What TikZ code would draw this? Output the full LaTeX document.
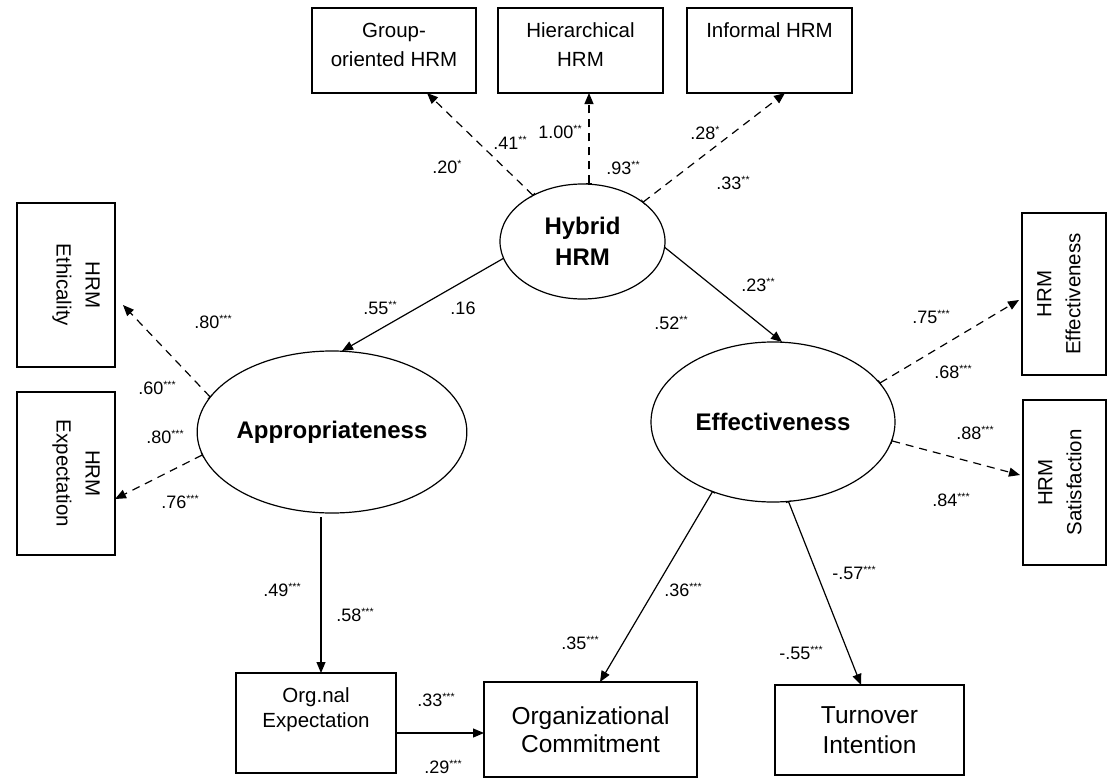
\documentclass[tikz,border=0pt]{standalone}
\usepackage{fontspec}
\setmainfont{Liberation Sans}
\usetikzlibrary{arrows.meta,shapes.geometric}
% significance marks set small and raised
\newcommand\sigmark[1]{\raisebox{5.5pt}{\fontsize{10.5}{10.5}\selectfont #1}}
\begin{document}
\begin{tikzpicture}[x=1pt,y=-1pt,
  every node/.style={inner sep=0pt, outer sep=0pt},
  obs/.style={draw, line width=1.3pt, rectangle},
  boxfont/.style={font=\fontsize{20.5}{29}\selectfont},
  latent/.style={draw, line width=1.2pt, ellipse, align=center,
    font=\fontsize{24}{31}\selectfont\bfseries},
  coef/.style={font=\fontsize{18}{21}\selectfont},
  causal/.style={line width=1.2pt, -{Triangle[length=11pt,width=9pt]}},
  loading/.style={line width=1.2pt, dash pattern=on 8pt off 6pt,
    {Bar[width=6pt,line width=0.8pt]}-{Triangle[length=11pt,width=9pt]}},
  causalbar/.style={line width=1.2pt,
    {Bar[width=6pt,line width=0.8pt]}-{Triangle[length=11pt,width=9pt]}},
]
\useasboundingbox (0,0) rectangle (1109,779);

% ---- indicator boxes of the hybrid construct
\node[obs, boxfont, minimum width=164, minimum height=85] (grp) at (394,50.5)
  {\parbox[c][67pt][t]{158pt}{\centering\strut Group-\\oriented HRM}};
\node[obs, boxfont, minimum width=165, minimum height=85] (hier) at (580.5,50.5)
  {\parbox[c][67pt][t]{158pt}{\centering\strut Hierarchical\\HRM}};
\node[obs, boxfont, minimum width=165, minimum height=85] (inf) at (769.5,50.5)
  {\parbox[c][67pt][t]{158pt}{\centering\strut Informal HRM}};

% ---- latent constructs
\node[latent, minimum width=165, minimum height=115] (hyb) at (582.5,241.5) {Hybrid\\HRM};
\node[latent, minimum width=244, minimum height=162] (app) at (332,432) {Appropriateness};
\node[latent, minimum width=244, minimum height=160] (eff) at (773,422) {Effectiveness};

% ---- side indicators (rotated text)
\node[obs, boxfont, rotate=-90, minimum width=164, minimum height=98] (eth) at (66,285)
  {\parbox[c][80pt][t]{150pt}{\centering\strut HRM\\Ethicality}};
\node[obs, boxfont, rotate=-90, minimum width=163, minimum height=98] (exp) at (66,473.5)
  {\parbox[c][80pt][t]{150pt}{\centering\strut HRM\\Expectation}};
\node[obs, boxfont, rotate=90, minimum width=162, minimum height=84] (heff) at (1064,294)
  {\parbox[c][66pt][t]{150pt}{\centering\strut HRM\\Effectiveness}};
\node[obs, boxfont, rotate=90, minimum width=165, minimum height=83] (hsat) at (1064.5,482.5)
  {\parbox[c][65pt][t]{150pt}{\centering\strut HRM\\Satisfaction}};

% ---- outcome boxes
\node[obs, font=\fontsize{20.5}{25}\selectfont, minimum width=160, minimum height=100] (orgx) at (316,723)
  {\parbox[c][77pt][t]{150pt}{\centering\strut Org.nal\\Expectation}};
\node[obs, font=\fontsize{24.5}{28}\selectfont, align=center, minimum width=213, minimum height=95] (oc) at (590.5,729.5)
  {Organizational\\Commitment};
\node[obs, font=\fontsize{24.5}{30}\selectfont, align=center, minimum width=189, minimum height=90] (tov) at (869.5,730)
  {Turnover\\Intention};

% ---- connectors
\draw[loading] (hyb.137) -- ([xshift=33pt]grp.south);
\draw[loading] ([xshift=6.5pt]hyb.north) -- ([xshift=6.5pt]hyb.north |- hier.south);
\draw[loading] (hyb.33) -- ([xshift=15.5pt]inf.south);
\draw[causal] (hyb.192) -- ([xshift=10pt]app.north);
\draw[causal] (hyb.-4) -- ([xshift=9pt]eff.north);
\draw[loading] (app.164) -- ([xshift=8pt,yshift=-20pt]eth.north);
\draw[loading] (app.190) -- ([yshift=-25.5pt]exp.north);
\draw[loading] (eff.20) -- ([xshift=-3pt,yshift=-6pt]heff.north);
\draw[loading] (eff.-9) -- ([xshift=-3pt,yshift=7.5pt]hsat.north);
\draw[causalbar] (eff.229) -- ([xshift=9.5pt]oc.north);
\draw[causalbar] (eff.281) -- ([xshift=-8.5pt]tov.north);
\draw[causal] ([xshift=-11pt,yshift=-4pt]app.south) -- ([xshift=-11pt]app.south |- orgx.north);
\draw[causal] ([yshift=-10pt]orgx.east) -- ([yshift=-10pt]orgx.east -| oc.west);

% ---- coefficients
\node[coef] (c01) at (447,167) {.20\sigmark{*}};
\node[coef] (c02) at (510,143) {.41\sigmark{**}};
\node[coef] (c03) at (560,132) {1.00\sigmark{**}};
\node[coef] (c04) at (623,168) {.93\sigmark{**}};
\node[coef] (c05) at (705,133) {.28\sigmark{*}};
\node[coef] (c06) at (733,183) {.33\sigmark{**}};
\node[coef] (c07) at (380,308) {.55\sigmark{**}};
\node[coef] (c08) at (463,308) {.16};
\node[coef] (c09) at (758,285) {.23\sigmark{**}};
\node[coef] (c10) at (671,323) {.52\sigmark{**}};
\node[coef] (c11) at (213,322) {.80\sigmark{***}};
\node[coef] (c12) at (157,388) {.60\sigmark{***}};
\node[coef] (c13) at (165,437) {.80\sigmark{***}};
\node[coef] (c14) at (180,502) {.76\sigmark{***}};
\node[coef] (c15) at (931,317) {.75\sigmark{***}};
\node[coef] (c16) at (953,372) {.68\sigmark{***}};
\node[coef] (c17) at (975,433) {.88\sigmark{***}};
\node[coef] (c18) at (951,500) {.84\sigmark{***}};
\node[coef] (c19) at (282,590) {.49\sigmark{***}};
\node[coef] (c20) at (355,615) {.58\sigmark{***}};
\node[coef] (c21) at (683,590) {.36\sigmark{***}};
\node[coef] (c22) at (580,643) {.35\sigmark{***}};
\node[coef] (c23) at (854,573) {-.57\sigmark{***}};
\node[coef] (c24) at (801,653) {-.55\sigmark{***}};
\node[coef] (c25) at (436,700) {.33\sigmark{***}};
\node[coef] (c26) at (443,767) {.29\sigmark{***}};
\end{tikzpicture}
\end{document}
